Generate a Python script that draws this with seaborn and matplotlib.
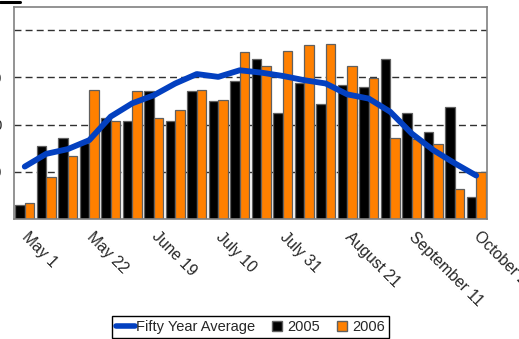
import numpy as np
import pandas as pd
import matplotlib
matplotlib.use("Agg")
import matplotlib.pyplot as plt
from matplotlib.lines import Line2D
import seaborn as sns

sns.set_theme(style="white")
plt.rcParams['font.family'] = ['Liberation Sans', 'DejaVu Sans']

# ---- data ----
tick_labels = ["May 1", "May 22", "June 19", "July 10", "July 31",
               "August 21", "September 11", "October 2"]
y2005 = [2.9, 15.5, 17.2, 16.1, 21.3, 20.8, 27.1, 20.8, 27.2, 24.9, 29.2,
         33.8, 22.4, 28.8, 24.4, 28.4, 28.0, 33.8, 22.4, 18.5, 23.8, 4.7]
y2006 = [3.3, 8.9, 13.3, 27.4, 20.7, 27.1, 21.3, 23.1, 27.4, 25.2, 35.3,
         32.4, 35.6, 36.9, 37.0, 32.4, 29.8, 17.1, 16.9, 15.8, 6.4, 9.9]
avg50 = [11.1, 13.8, 14.8, 16.7, 21.7, 24.5, 26.2, 28.7, 30.7, 30.1, 31.5,
         31.0, 30.3, 29.4, 28.7, 26.4, 25.5, 22.7, 18.1, 14.6, 11.8, 9.2]
ytick_values = [10, 20, 30, 40]
ytick_text = ["10", "20", "30", ""]

n = len(y2005)
cats = [f"w{i}" for i in range(n)]
df = pd.DataFrame({
    "week": cats * 2,
    "value": y2005 + y2006,
    "year": ["2005"] * n + ["2006"] * n,
})

BLUE = "#0340C0"
ORANGE = "#FF8000"

fig = plt.figure(figsize=(5.19, 3.39), dpi=100)
ax = fig.add_axes([14 / 519, 1 - 219 / 339, (487 - 14) / 519, (219 - 7) / 339])

sns.barplot(data=df, x="week", y="value", hue="year", order=cats,
            palette={"2005": "black", "2006": ORANGE}, width=0.88,
            edgecolor="#606060", linewidth=0.9, ax=ax, legend=False,
            errorbar=None, saturation=1)

sns.lineplot(x=np.arange(n), y=avg50, color=BLUE, linewidth=4.2, ax=ax,
             solid_capstyle="round", solid_joinstyle="round", zorder=5)

ax.set_xlim(-0.5, n - 0.5)
ax.set_ylim(0, 44.9)
ax.set_xlabel("")
ax.set_ylabel("")

ax.set_xticks(np.arange(0, n, 3))
ax.set_xticklabels(tick_labels, rotation=-45, ha="left", va="center",
                   rotation_mode="anchor", fontsize=11.3)
ax.tick_params(axis="x", length=0, pad=11)

ax.set_yticks(ytick_values)
ax.set_yticklabels(ytick_text, fontsize=10.5)
ax.tick_params(axis="y", length=0, pad=8.5)

ax.yaxis.grid(True, color="#303030", linestyle=(0, (5, 3)), linewidth=1)
ax.set_axisbelow(True)

for side in ["left", "right", "top", "bottom"]:
    ax.spines[side].set_visible(True)
    ax.spines[side].set_color("#808080")
    ax.spines[side].set_linewidth(1.2)

handles = [
    Line2D([], [], color=BLUE, linewidth=4, solid_capstyle="round"),
    Line2D([], [], linestyle="none", marker="s", markersize=7.5,
           markerfacecolor="black", markeredgecolor="#606060"),
    Line2D([], [], linestyle="none", marker="s", markersize=7.5,
           markerfacecolor=ORANGE, markeredgecolor="#606060"),
]
leg = fig.legend(handles, ["Fifty Year Average", "2005", "2006"],
                 loc="lower center", bbox_to_anchor=(0.483, 0.0), ncol=3,
                 fontsize=10.5, frameon=True, fancybox=False, framealpha=1,
                 edgecolor="black", handlelength=1.3, handletextpad=0.1,
                 columnspacing=0.8, borderpad=0.25, borderaxespad=0.1)
leg.get_frame().set_linewidth(1.0)

# cropped fragment at top-left corner
fig.add_artist(Line2D([0, 20 / 519], [1 - 1.5 / 339, 1 - 1.5 / 339],
                      color="black", linewidth=2.2, transform=fig.transFigure))

fig.savefig("out.png", dpi=100)
